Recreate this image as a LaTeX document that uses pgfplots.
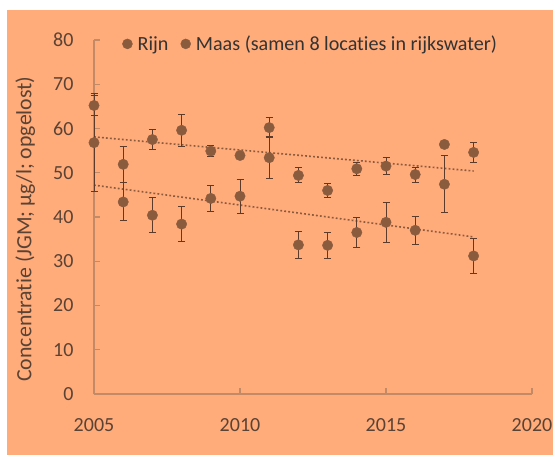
\documentclass[border=0pt]{standalone}
\usepackage{pgfplots}
\pgfplotsset{compat=1.18}
\usepackage{pgfplotstable}
\usepackage{fontspec}
\setmainfont{Carlito}[Ligatures=NoCommon]
\definecolor{bg}{HTML}{FFAB7A}
\definecolor{mk}{HTML}{8B5B3E}
\definecolor{eb}{HTML}{5C3B2A}
\definecolor{ax}{HTML}{C38A68}
\definecolor{txt}{HTML}{5A4334}

\pgfplotstableread{
x y e
2005 65.2 2.3
2006 51.9 4.0
2007 57.5 2.2
2008 59.6 3.6
2009 54.9 1.2
2010 53.9 0.7
2011 60.2 2.2
2012 49.4 1.7
2013 46.0 1.5
2014 50.9 1.5
2015 51.5 2.0
2016 49.6 1.7
2017 56.4 0.0
2018 54.6 2.3
}\rijn

\pgfplotstableread{
x y e
2005 56.8 11.0
2006 43.4 4.3
2007 40.4 4.0
2008 38.4 3.9
2009 44.2 2.9
2010 44.7 3.8
2011 53.4 4.7
2012 33.7 3.0
2013 33.6 2.9
2014 36.5 3.3
2015 38.8 4.5
2016 37.0 3.2
2017 47.4 6.4
2018 31.2 3.9
}\maas

\begin{document}
\begin{tikzpicture}[x=1pt,y=1pt]
\path[use as bounding box] (0,0) rectangle (553,455);
\fill[white] (0,0) rectangle (553,455);
\fill[bg] (7,0) rectangle (553,445);
\begin{axis}[
  at={(94pt,61pt)}, anchor=south west,
  scale only axis, width=438pt, height=354pt,
  xmin=2005, xmax=2020, ymin=0, ymax=80,
  clip=false,
  axis x line*=bottom, axis y line*=left,
  axis line style={ax, line width=1.2pt},
  xtick={2005,2010,2015,2020},
  ytick={0,10,...,80},
  tick align=inside,
  major tick length=6pt,
  tick style={ax, line width=1.2pt},
  /pgf/number format/assume math mode=true,
  /pgf/number format/1000 sep={},
  ticklabel style={font=\fontsize{20}{24}\selectfont, text=txt},
  xticklabel style={yshift=-21pt},
  yticklabel style={xshift=-17pt},
  ylabel={Concentratie (JGM; µg/l; opgelost)},
  ylabel style={font=\fontsize{21.8}{26}\selectfont, text=txt, at={(axis description cs:-0.157,0.466)}, anchor=center},
  legend columns=2,
  legend style={draw=none, fill=none, at={(0.064,0.989)}, anchor=west,
    font=\fontsize{20.1}{23}\selectfont, text=black!80,
    /tikz/every odd column/.append style={column sep=3pt},
    /tikz/every even column/.append style={column sep=10pt},
    inner sep=0pt},
  legend image code/.code={\fill[mk] (5pt,0pt) circle (5pt);},
]
\addplot[mk, line width=1.6pt, dash pattern=on 1.8pt off 2.2pt, forget plot] coordinates {(2005,58.1) (2018,50.4)};
\addplot[mk, line width=1.6pt, dash pattern=on 1.8pt off 2.2pt, forget plot] coordinates {(2005,47.2) (2018,35.5)};
\addplot[eb, only marks, mark=*, mark options={draw=none, fill=none}, forget plot,
  error bars/.cd, y dir=both, y explicit,
  error bar style={eb, line width=1pt, solid},
  error mark options={eb, draw=eb, line width=1pt, mark size=3.5pt, solid, rotate=90}]
  table[x=x, y=y, y error=e] \rijn;
\addplot[eb, only marks, mark=*, mark options={draw=none, fill=none}, forget plot,
  error bars/.cd, y dir=both, y explicit,
  error bar style={eb, line width=1pt, solid},
  error mark options={eb, draw=eb, line width=1pt, mark size=3.5pt, solid, rotate=90}]
  table[x=x, y=y, y error=e] \maas;
\addplot[only marks, mark=*, mark size=5.2pt, mark options={fill=mk, draw=mk}] table[x=x, y=y] \rijn;
\addlegendentry{Rijn}
\addplot[only marks, mark=*, mark size=5.2pt, mark options={fill=mk, draw=mk}] table[x=x, y=y] \maas;
\addlegendentry{Maas (samen 8 locaties in rijkswater)}
\end{axis}
\end{tikzpicture}
\end{document}
